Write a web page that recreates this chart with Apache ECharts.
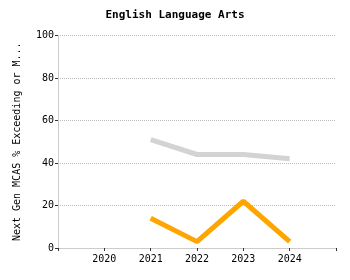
<!DOCTYPE html>
<html><head><meta charset="utf-8">
<script src="https://cdn.jsdelivr.net/npm/echarts@6/dist/echarts.min.js"></script>
<style>html,body{margin:0;padding:0;background:#fff}#c{width:350px;height:280px}</style>
</head><body><div id="c"></div>
<script>
const years = [2021, 2022, 2023, 2024];
const stateValues = [51, 44, 44, 42];
const schoolValues = [14, 3, 22, 3];
const xLabels = [2020, 2021, 2022, 2023, 2024];
const yTicks = [0, 20, 40, 60, 80, 100];

const chart = echarts.init(document.getElementById('c'));
const font = 'DejaVu Sans Mono';
chart.setOption({
  animation: false,
  title: {
    text: 'English Language Arts', left: 'center', top: 5,
    textStyle: { fontFamily: font, fontSize: 11, fontWeight: 'bold', color: '#000' }
  },
  grid: { left: 58, right: 14, top: 35.5, bottom: 32 },
  xAxis: {
    type: 'value', min: 2019, max: 2025, interval: 1,
    axisLine: { lineStyle: { color: '#ccc' } },
    axisTick: { show: true, length: 3, lineStyle: { color: '#333' } },
    splitLine: { show: false },
    axisLabel: {
      fontFamily: font, fontSize: 10, color: '#000', margin: 6,
      formatter: v => xLabels.includes(v) ? String(v) : ''
    }
  },
  yAxis: {
    type: 'value', min: 0, max: 100, interval: 20,
    name: 'Next Gen MCAS % Exceeding or M...', nameLocation: 'middle', nameGap: 36,
    nameTextStyle: { fontFamily: font, fontSize: 10, color: '#000' },
    axisLine: { show: true, lineStyle: { color: '#ccc' } },
    axisTick: { show: true, length: 3, lineStyle: { color: '#333' } },
    splitLine: { show: true, lineStyle: { color: '#bbb', type: 'dotted' } },
    axisLabel: {
      fontFamily: font, fontSize: 10, color: '#000', margin: 4,
      formatter: v => yTicks.includes(v) ? String(v) : ''
    }
  },
  series: [
    { type: 'line', data: years.map((y, i) => [y, stateValues[i]]), showSymbol: false,
      lineStyle: { color: '#d3d3d3', width: 5 }, itemStyle: { color: '#d3d3d3' } },
    { type: 'line', data: years.map((y, i) => [y, schoolValues[i]]), showSymbol: false,
      lineStyle: { color: '#ffa500', width: 5 }, itemStyle: { color: '#ffa500' } }
  ]
});
</script></body></html>
